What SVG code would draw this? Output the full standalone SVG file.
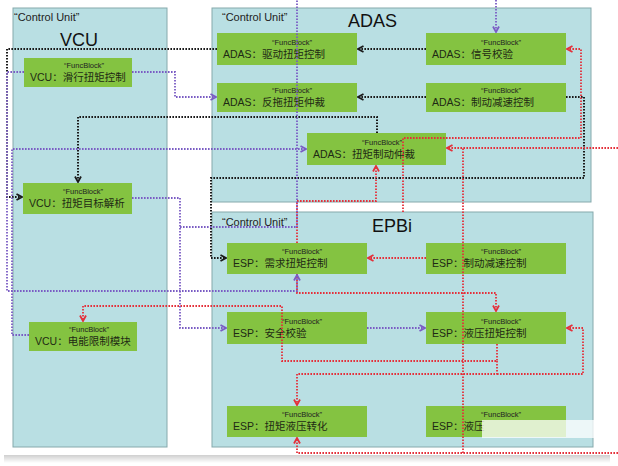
<svg xmlns="http://www.w3.org/2000/svg" width="618" height="466" viewBox="0 0 618 466">
<defs>
<style>
.unit{fill:#B9DFE3;stroke:#86A9AC;stroke-width:1}
.node{fill:#84C341}
.cu{font-family:"Liberation Sans","Noto Sans CJK SC",sans-serif;font-size:11px;fill:#222}
.big{font-family:"Liberation Sans",sans-serif;font-size:18px;fill:#111}
.fb{font-family:"Liberation Sans",sans-serif;font-size:7.5px;fill:#222;text-anchor:middle}
.lbl{font-family:"Liberation Sans","Noto Sans CJK SC",sans-serif;font-size:10.5px;fill:#1e2a14}
.c{fill:none;stroke-width:2;stroke-dasharray:1.6 1.4}
.k{stroke:#1a1a1a}
.p{stroke:#7A5CC4;stroke-width:1.8}
.r{stroke:#E4303A;stroke-width:1.8}
</style>
<marker id="ak" viewBox="0 0 8 8" refX="7" refY="4" markerWidth="8" markerHeight="8" markerUnits="userSpaceOnUse" orient="auto"><path d="M1.5,1 L7,4 L1.5,7" fill="none" stroke="#1a1a1a" stroke-width="1.8"/></marker>
<marker id="ap" viewBox="0 0 8 8" refX="7" refY="4" markerWidth="8" markerHeight="8" markerUnits="userSpaceOnUse" orient="auto"><path d="M1.5,1 L7,4 L1.5,7" fill="none" stroke="#7A5CC4" stroke-width="1.8"/></marker>
<marker id="ar" viewBox="0 0 8 8" refX="7" refY="4" markerWidth="8" markerHeight="8" markerUnits="userSpaceOnUse" orient="auto"><path d="M1.5,1 L7,4 L1.5,7" fill="none" stroke="#E4303A" stroke-width="1.8"/></marker>
<linearGradient id="sh" x1="0" y1="0" x2="0" y2="1"><stop offset="0" stop-color="#cfcfcf"/><stop offset="1" stop-color="#ffffff"/></linearGradient>
</defs>
<rect x="0" y="0" width="618" height="466" fill="#fff"/>
<rect x="4" y="455" width="606" height="8" fill="url(#sh)"/>

<g id="vcu-unit">
<rect class="unit" x="13" y="8" width="154" height="439"/>
<text class="cu" x="14" y="21">“Control Unit”</text>
<text class="big" x="60" y="46">VCU</text>
</g>
<g id="adas-unit">
<rect class="unit" x="212" y="8" width="379" height="194"/>
<text class="cu" x="222" y="21">“Control Unit”</text>
<text class="big" x="348" y="27">ADAS</text>
</g>
<g id="epbi-unit">
<rect class="unit" x="212" y="212" width="381" height="235"/>
<text class="cu" x="222" y="226">“Control Unit”</text>
<text class="big" x="372" y="232">EPBi</text>
</g>

<g id="vcu-coast">
<rect class="node" x="24" y="58" width="108" height="29"/>
<text class="fb" x="84" y="68">“FuncBlock”</text>
<text class="lbl" x="30" y="81">VCU：滑行扭矩控制</text>
</g>
<g id="vcu-target">
<rect class="node" x="23" y="183" width="109" height="31"/>
<text class="fb" x="83" y="194">“FuncBlock”</text>
<text class="lbl" x="29" y="207">VCU：扭矩目标解析</text>
</g>
<g id="vcu-limit">
<rect class="node" x="29" y="322" width="108" height="29"/>
<text class="fb" x="89" y="332">“FuncBlock”</text>
<text class="lbl" x="35" y="345">VCU：电能限制模块</text>
</g>

<g id="adas-drive">
<rect class="node" x="217" y="33" width="140" height="32"/>
<text class="fb" x="292" y="45">“FuncBlock”</text>
<text class="lbl" x="223" y="58">ADAS：驱动扭矩控制</text>
</g>
<g id="adas-drag">
<rect class="node" x="217" y="83" width="140" height="29"/>
<text class="fb" x="292" y="93">“FuncBlock”</text>
<text class="lbl" x="223" y="106">ADAS：反拖扭矩仲裁</text>
</g>
<g id="adas-signal">
<rect class="node" x="426" y="33" width="140" height="32"/>
<text class="fb" x="501" y="45">“FuncBlock”</text>
<text class="lbl" x="432" y="58">ADAS：信号校验</text>
</g>
<g id="adas-decel">
<rect class="node" x="426" y="83" width="140" height="29"/>
<text class="fb" x="501" y="93">“FuncBlock”</text>
<text class="lbl" x="432" y="106">ADAS：制动减速控制</text>
</g>
<g id="adas-arb">
<rect class="node" x="307" y="133" width="139" height="32"/>
<text class="fb" x="382" y="145">“FuncBlock”</text>
<text class="lbl" x="313" y="158">ADAS：扭矩制动仲裁</text>
</g>

<g id="esp-demand">
<rect class="node" x="227" y="243" width="140" height="31"/>
<text class="fb" x="302" y="254">“FuncBlock”</text>
<text class="lbl" x="233" y="267">ESP：需求扭矩控制</text>
</g>
<g id="esp-decel">
<rect class="node" x="426" y="243" width="140" height="31"/>
<text class="fb" x="501" y="254">“FuncBlock”</text>
<text class="lbl" x="432" y="267">ESP：制动减速控制</text>
</g>
<g id="esp-safety">
<rect class="node" x="227" y="312" width="140" height="32"/>
<text class="fb" x="302" y="324">“FuncBlock”</text>
<text class="lbl" x="233" y="337">ESP：安全校验</text>
</g>
<g id="esp-hydr">
<rect class="node" x="426" y="312" width="140" height="32"/>
<text class="fb" x="501" y="324">“FuncBlock”</text>
<text class="lbl" x="432" y="337">ESP：液压扭矩控制</text>
</g>
<g id="esp-conv">
<rect class="node" x="227" y="406" width="140" height="31"/>
<text class="fb" x="302" y="417">“FuncBlock”</text>
<text class="lbl" x="233" y="430">ESP：扭矩液压转化</text>
</g>
<g id="esp-hydr2">
<rect class="node" x="426" y="406" width="140" height="31"/>
<text class="fb" x="501" y="417">“FuncBlock”</text>
<text class="lbl" x="432" y="430">ESP：液压</text>
</g>

<g id="connectors">
<path class="c k" d="M426,49 H358" marker-end="url(#ak)"/>
<path class="c k" d="M426,97 H358" marker-end="url(#ak)"/>
<path class="c k" d="M217,49 H7 V197 H22" marker-end="url(#ak)"/>
<path class="c k" d="M377,133 V117 H78 V182" marker-end="url(#ak)"/>
<path class="c k" d="M566,97 H584 V178 H211 V258 H226" marker-end="url(#ak)"/>

<path class="c r" d="M618,148 H463"/>
<path class="c r" d="M463,453 V148 H447" marker-end="url(#ar)"/>
<path class="c r" d="M618,453 H297 V438" marker-end="url(#ar)"/>
<path class="c r" d="M403,212 V138 H581 V49 H567" marker-end="url(#ar)"/>
<path class="c r" d="M426,258 H368" marker-end="url(#ar)"/>
<path class="c r" d="M297,243 V201 H376 V166" marker-end="url(#ar)"/>
<path class="c r" d="M297,274 V293 H496 V311" marker-end="url(#ar)"/>
<path class="c r" d="M497,344 V361 H282 V306 H83 V321" marker-end="url(#ar)"/>
<path class="c r" d="M497,361 V374 H297 V405" marker-end="url(#ar)"/>
<path class="c r" d="M497,374 H583 V328 H567" marker-end="url(#ar)"/>

<path class="c p" d="M496,0 V32" marker-end="url(#ap)"/>
<path class="c p" d="M132,72 H175 V97 H216" marker-end="url(#ap)"/>
<path class="c p" d="M132,198 H180 V328 H226" marker-end="url(#ap)"/>
<path class="c p" d="M180,227 H297 V0"/>
<path class="c p" d="M24,72 H7 V291 H297 V275" marker-end="url(#ap)"/>
<path class="c p" d="M29,335 H12 V149 H306" marker-end="url(#ap)"/>
<path class="c p" d="M367,328 H425" marker-end="url(#ap)"/>
</g>

<rect x="482" y="420" width="118" height="18" fill="#ffffff" opacity="0.75"/>
</svg>
